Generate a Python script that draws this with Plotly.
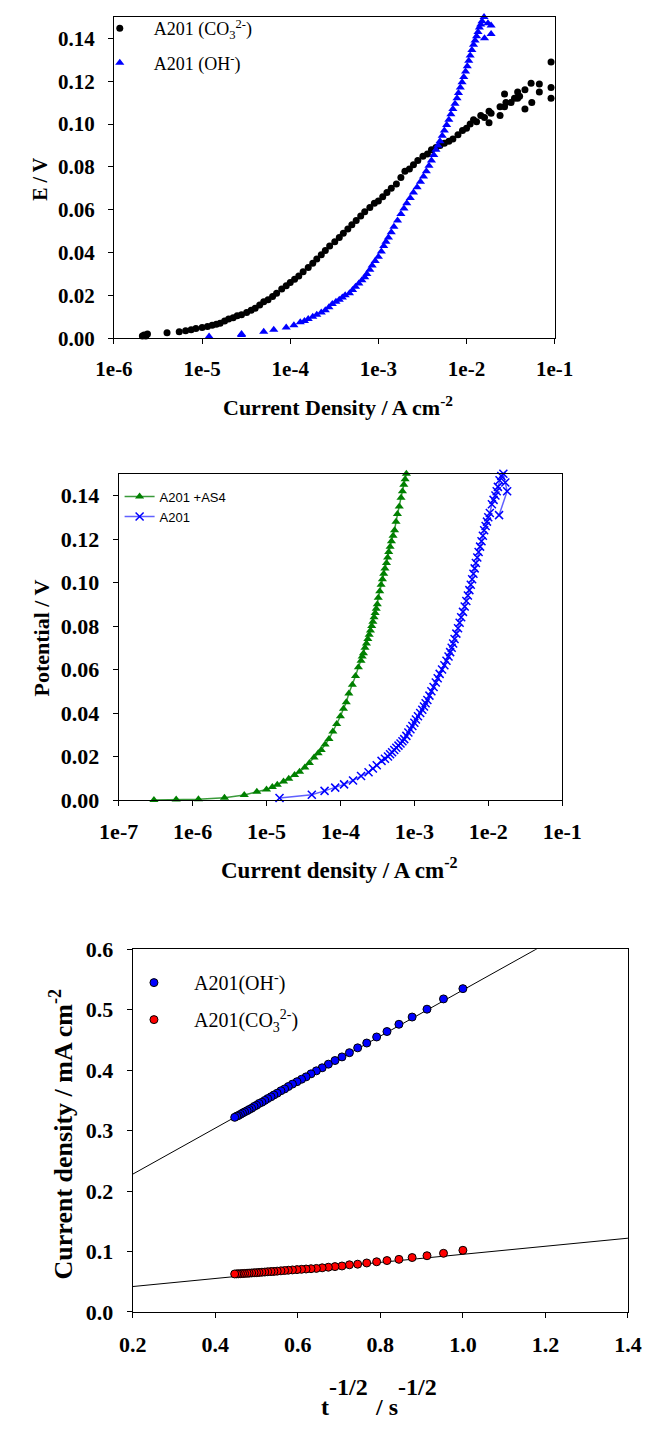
import plotly.graph_objects as go

W, H = 663, 1433

# ---------------- Panel 1 data ----------------
co3_x = [2.1e-6, 2.2e-6, 2.3e-6, 2.4e-6, 4.0e-6, 5.5e-6, 6.5e-6, 7.5e-6, 8.5e-6, 1.0e-5,
         1.15e-5, 1.3e-5, 1.45e-5, 1.6e-5, 1.8e-5, 2.0e-5, 2.25e-5, 2.5e-5, 2.8e-5, 3.2e-5,
         3.6e-5, 4.0e-5, 4.5e-5, 5.0e-5, 5.6e-5, 6.3e-5, 7.0e-5, 8.0e-5, 9.0e-5, 1.0e-4,
         1.12e-4, 1.25e-4, 1.4e-4, 1.6e-4, 1.8e-4, 2.0e-4, 2.25e-4, 2.5e-4, 2.8e-4, 3.2e-4,
         3.6e-4, 4.0e-4, 4.5e-4, 5.0e-4, 5.6e-4, 6.3e-4, 7.0e-4, 8.0e-4, 9.0e-4, 1.0e-3,
         1.12e-3, 1.25e-3, 1.4e-3, 1.6e-3, 1.8e-3, 2.0e-3, 2.25e-3, 2.5e-3, 2.8e-3, 3.2e-3,
         3.6e-3, 4.0e-3, 4.5e-3, 5.0e-3, 5.6e-3, 6.3e-3, 7.0e-3, 8.0e-3, 9.0e-3, 1.0e-2,
         1.1e-2, 1.2e-2, 1.3e-2, 1.45e-2, 1.6e-2, 1.8e-2, 1.8e-2, 1.9e-2, 2.4e-2, 2.4e-2,
         2.7e-2, 2.7e-2, 2.8e-2, 3.2e-2, 3.5e-2, 3.8e-2, 3.8e-2, 4.0e-2, 4.6e-2, 4.6e-2,
         5.4e-2, 5.5e-2, 6.7e-2, 6.7e-2, 9.1e-2, 9.1e-2, 9.1e-2]
co3_y = [0.001, 0.0015, 0.001, 0.002, 0.0025, 0.003, 0.0035, 0.004, 0.0045, 0.005,
         0.0055, 0.006, 0.0065, 0.007, 0.008, 0.009, 0.0095, 0.0105, 0.011, 0.012,
         0.013, 0.014, 0.0155, 0.017, 0.018, 0.0195, 0.021, 0.023, 0.0245, 0.026,
         0.0275, 0.029, 0.031, 0.033, 0.035, 0.037, 0.039, 0.041, 0.043, 0.045,
         0.047, 0.049, 0.051, 0.053, 0.055, 0.057, 0.059, 0.061, 0.063, 0.064,
         0.066, 0.068, 0.070, 0.072, 0.075, 0.078, 0.079, 0.081, 0.083, 0.085,
         0.086, 0.088, 0.089, 0.090, 0.091, 0.092, 0.093, 0.095, 0.097, 0.098,
         0.100, 0.102, 0.101, 0.104, 0.103, 0.106, 0.1006, 0.105, 0.104, 0.108,
         0.114, 0.108, 0.110, 0.110, 0.112, 0.115, 0.112, 0.113, 0.116, 0.107,
         0.119, 0.110, 0.1187, 0.115, 0.129, 0.117, 0.112]

oh_x = [1.2e-5, 2.8e-5, 2.8e-5, 5.0e-5, 6.5e-5, 9.0e-5, 1.1e-4, 1.3e-4, 1.45e-4, 1.6e-4,
        1.8e-4, 2.0e-4, 2.25e-4, 2.5e-4, 2.75e-4, 3.0e-4, 3.3e-4, 3.6e-4, 3.9e-4, 4.2e-4,
        4.7e-4, 5.1e-4, 5.5e-4, 6.0e-4, 6.5e-4, 7.0e-4, 7.4e-4, 8.0e-4, 8.5e-4, 9.2e-4,
        1.0e-3, 1.08e-3, 1.15e-3, 1.22e-3, 1.3e-3, 1.4e-3, 1.5e-3, 1.65e-3, 1.8e-3, 1.95e-3,
        2.1e-3, 2.3e-3, 2.5e-3, 2.75e-3, 3.0e-3, 3.25e-3, 3.5e-3, 3.75e-3, 4.0e-3, 4.25e-3,
        4.5e-3, 4.75e-3, 5.0e-3, 5.3e-3, 5.6e-3, 5.95e-3, 6.3e-3, 6.65e-3, 7.0e-3, 7.4e-3,
        7.8e-3, 8.1e-3, 8.5e-3, 8.9e-3, 9.3e-3, 9.75e-3, 1.02e-2, 1.06e-2, 1.1e-2, 1.15e-2,
        1.2e-2, 1.25e-2, 1.3e-2, 1.35e-2, 1.4e-2, 1.45e-2, 1.5e-2, 1.58e-2, 1.75e-2, 1.9e-2,
        1.9e-2, 1.6e-2]
oh_y = [0.0008, 0.0015, 0.002, 0.003, 0.004, 0.005, 0.006, 0.0075, 0.008, 0.009,
        0.010, 0.011, 0.012, 0.013, 0.0145, 0.016, 0.017, 0.018, 0.019, 0.020,
        0.021, 0.0225, 0.024, 0.0255, 0.027, 0.0285, 0.030, 0.032, 0.034, 0.036,
        0.038, 0.0405, 0.043, 0.045, 0.047, 0.0495, 0.052, 0.055, 0.058, 0.0605,
        0.063, 0.0655, 0.068, 0.0705, 0.073, 0.0755, 0.078, 0.0805, 0.083, 0.0855,
        0.088, 0.090, 0.092, 0.0945, 0.097, 0.0995, 0.102, 0.1045, 0.107, 0.1095,
        0.112, 0.1145, 0.117, 0.1195, 0.122, 0.1245, 0.127, 0.1295, 0.132, 0.1345,
        0.137, 0.139, 0.141, 0.143, 0.145, 0.1465, 0.148, 0.150, 0.147, 0.146,
        0.142, 0.140]

# ---------------- Panel 2 data ----------------
as4_x = [3.0e-7, 6.0e-7, 1.2e-6, 2.7e-6, 5.0e-6, 7.4e-6, 1.0e-5, 1.2e-5, 1.4e-5, 1.7e-5,
         2.0e-5, 2.4e-5, 2.8e-5, 3.3e-5, 3.8e-5, 4.4e-5, 5.0e-5, 5.5e-5, 6.2e-5, 7.0e-5,
         7.9e-5, 8.9e-5, 1.0e-4, 1.1e-4, 1.2e-4, 1.3e-4, 1.45e-4, 1.6e-4, 1.75e-4, 1.9e-4,
         1.97e-4, 2.05e-4, 2.15e-4, 2.25e-4, 2.35e-4, 2.45e-4, 2.55e-4, 2.65e-4, 2.75e-4, 2.85e-4,
         2.95e-4, 3.05e-4, 3.15e-4, 3.25e-4, 3.4e-4, 3.55e-4, 3.7e-4, 3.85e-4, 4.0e-4, 4.2e-4,
         4.35e-4, 4.5e-4, 4.7e-4, 4.9e-4, 5.15e-4, 5.4e-4, 5.65e-4, 5.9e-4, 6.25e-4, 6.6e-4,
         6.9e-4, 7.2e-4, 7.5e-4, 7.8e-4]
as4_y = [0.0, 0.0002, 0.0004, 0.001, 0.0023, 0.0038, 0.0048, 0.006, 0.007, 0.0085,
         0.0098, 0.0115, 0.013, 0.015, 0.017, 0.0195, 0.0215, 0.023, 0.0255, 0.028,
         0.0315, 0.035, 0.0385, 0.042, 0.045, 0.049, 0.053, 0.057, 0.061, 0.064,
         0.066, 0.0675, 0.070, 0.072, 0.074, 0.076, 0.078, 0.080, 0.082, 0.084,
         0.086, 0.088, 0.090, 0.093, 0.096, 0.099, 0.1015, 0.104, 0.1065, 0.109,
         0.1115, 0.114, 0.1165, 0.119, 0.1215, 0.124, 0.128, 0.1315, 0.135, 0.139,
         0.142, 0.145, 0.1475, 0.150]

a201_x = [1.5e-5, 4.1e-5, 6.1e-5, 8.5e-5, 1.12e-4, 1.48e-4, 1.9e-4, 2.4e-4, 2.75e-4, 3.1e-4,
          3.6e-4, 4.0e-4, 4.4e-4, 4.7e-4, 5.0e-4, 5.35e-4, 5.7e-4, 6.1e-4, 6.5e-4, 6.9e-4,
          7.3e-4, 7.8e-4, 8.3e-4, 8.85e-4, 9.4e-4, 1.0e-3, 1.05e-3, 1.12e-3, 1.2e-3, 1.28e-3,
          1.35e-3, 1.42e-3, 1.5e-3, 1.6e-3, 1.7e-3, 1.82e-3, 1.95e-3, 2.07e-3, 2.2e-3, 2.37e-3,
          2.55e-3, 2.72e-3, 2.9e-3, 3.05e-3, 3.2e-3, 3.35e-3, 3.5e-3, 3.7e-3, 3.9e-3, 4.1e-3,
          4.3e-3, 4.55e-3, 4.8e-3, 5.05e-3, 5.3e-3, 5.55e-3, 5.8e-3, 6.05e-3, 6.3e-3, 6.55e-3,
          6.8e-3, 7.1e-3, 7.4e-3, 7.75e-3, 8.1e-3, 8.45e-3, 8.8e-3, 9.2e-3, 9.6e-3, 1.0e-2,
          1.05e-2, 1.12e-2, 1.18e-2, 1.25e-2, 1.3e-2, 1.35e-2, 1.42e-2, 1.5e-2, 1.6e-2, 1.7e-2,
          1.8e-2, 1.4e-2]
a201_y = [0.0009, 0.0024, 0.0042, 0.0057, 0.0072, 0.009, 0.011, 0.0128, 0.0145, 0.016,
          0.018, 0.019, 0.020, 0.021, 0.022, 0.023, 0.024, 0.025, 0.026, 0.027,
          0.028, 0.0295, 0.031, 0.0325, 0.034, 0.0355, 0.037, 0.0385, 0.040, 0.0415,
          0.043, 0.0445, 0.046, 0.048, 0.050, 0.052, 0.054, 0.056, 0.058, 0.060,
          0.062, 0.064, 0.066, 0.068, 0.070, 0.072, 0.074, 0.0765, 0.079, 0.0815,
          0.084, 0.0865, 0.089, 0.0915, 0.094, 0.0965, 0.099, 0.1015, 0.104, 0.1065,
          0.109, 0.1115, 0.114, 0.1165, 0.119, 0.1215, 0.124, 0.126, 0.128, 0.130,
          0.132, 0.136, 0.138, 0.140, 0.142, 0.144, 0.147, 0.149, 0.150, 0.146,
          0.142, 0.131]

# ---------------- Panel 3 data ----------------
t_inv = [1.000, 0.953, 0.913, 0.877, 0.845, 0.816, 0.791, 0.767, 0.745, 0.725,
         0.707, 0.690, 0.674, 0.659, 0.645, 0.632, 0.620, 0.609, 0.598, 0.587,
         0.577, 0.568, 0.559, 0.550, 0.542, 0.535, 0.527, 0.520, 0.513, 0.506,
         0.500, 0.494, 0.488, 0.482, 0.477, 0.471, 0.466, 0.461, 0.456, 0.452, 0.447]
j_oh = [0.535, 0.518, 0.501, 0.488, 0.476, 0.464, 0.455, 0.445, 0.437, 0.429,
        0.422, 0.416, 0.410, 0.404, 0.399, 0.394, 0.389, 0.385, 0.381, 0.377,
        0.373, 0.369, 0.366, 0.362, 0.359, 0.356, 0.353, 0.350, 0.347, 0.345,
        0.342, 0.340, 0.337, 0.335, 0.333, 0.331, 0.329, 0.327, 0.325, 0.324, 0.322]
j_co3 = [0.102, 0.097, 0.093, 0.090, 0.087, 0.085, 0.083, 0.081, 0.079, 0.078,
         0.076, 0.075, 0.074, 0.073, 0.072, 0.0715, 0.071, 0.0705, 0.070, 0.0695,
         0.069, 0.0685, 0.068, 0.0675, 0.067, 0.0668, 0.0665, 0.066, 0.0657, 0.0653,
         0.065, 0.0648, 0.0645, 0.0642, 0.064, 0.0637, 0.0635, 0.0633, 0.0631, 0.063, 0.0628]
fit_x = [0.2, 1.4]
fit_oh_y = [0.228, 0.685]
fit_co3_y = [0.042, 0.122]

log_ticks_1 = [1e-6, 1e-5, 1e-4, 1e-3, 1e-2, 1e-1]
log_text_1 = ["1e-6", "1e-5", "1e-4", "1e-3", "1e-2", "1e-1"]
log_ticks_2 = [1e-7, 1e-6, 1e-5, 1e-4, 1e-3, 1e-2, 1e-1]
log_text_2 = ["1e-7", "1e-6", "1e-5", "1e-4", "1e-3", "1e-2", "1e-1"]


def px(x):
    return x / W


def py(y):
    return 1 - y / H


SERIF = "Liberation Serif, Times New Roman, serif"
SANS = "Liberation Sans, Arial, sans-serif"

fig = go.Figure()

# Panel 1
fig.add_trace(go.Scatter(x=co3_x, y=co3_y, mode="markers", name="A201 (CO<sub>3</sub><sup>2-</sup>)",
                         marker=dict(symbol="circle", size=7, color="black"),
                         xaxis="x", yaxis="y", legend="legend", legendgroup="a", cliponaxis=False))
fig.add_trace(go.Scatter(x=oh_x, y=oh_y, mode="markers", name="A201 (OH<sup>-</sup>)",
                         marker=dict(symbol="triangle-up", size=8, color="#0000ff"),
                         xaxis="x", yaxis="y", legend="legend", legendgroup="b", cliponaxis=False))

# Panel 2
fig.add_trace(go.Scatter(x=as4_x, y=as4_y, mode="lines+markers", name="A201 +AS4",
                         line=dict(color="#3a9a3a", width=1.5),
                         marker=dict(symbol="triangle-up", size=8, color="#008000"),
                         xaxis="x2", yaxis="y2", legend="legend2", cliponaxis=False))
fig.add_trace(go.Scatter(x=a201_x, y=a201_y, mode="lines+markers", name="A201",
                         line=dict(color="#6060ff", width=1.5),
                         marker=dict(symbol="x-thin", size=8, color="#0000ff",
                                     line=dict(color="#0000ff", width=1.5)),
                         xaxis="x2", yaxis="y2", legend="legend2", cliponaxis=False))

# Panel 3
fig.add_trace(go.Scatter(x=fit_x, y=fit_oh_y, mode="lines", showlegend=False,
                         line=dict(color="black", width=1), xaxis="x3", yaxis="y3"))
fig.add_trace(go.Scatter(x=fit_x, y=fit_co3_y, mode="lines", showlegend=False,
                         line=dict(color="black", width=1), xaxis="x3", yaxis="y3"))
fig.add_trace(go.Scatter(x=t_inv, y=j_oh, mode="markers", name="A201(OH<sup>-</sup>)",
                         marker=dict(symbol="circle", size=8, color="#0000ff",
                                     line=dict(color="black", width=1)),
                         xaxis="x3", yaxis="y3", legend="legend3", legendgroup="c"))
fig.add_trace(go.Scatter(x=t_inv, y=j_co3, mode="markers", name="A201(CO<sub>3</sub><sup>2-</sup>)",
                         marker=dict(symbol="circle", size=8, color="#ff0000",
                                     line=dict(color="black", width=1)),
                         xaxis="x3", yaxis="y3", legend="legend3", legendgroup="d"))

axis_common = dict(showline=True, linecolor="black", linewidth=1, mirror=True,
                   ticks="outside", ticklen=5, tickcolor="black", showgrid=False,
                   zeroline=False)

fig.update_layout(
    width=W, height=H, margin=dict(l=0, r=0, t=0, b=0),
    paper_bgcolor="white", plot_bgcolor="white",
    xaxis=dict(**axis_common, type="log", range=[-6, -1], domain=[px(100), px(569)],
               anchor="y", tickvals=log_ticks_1, ticktext=log_text_1,
               tickfont=dict(family=SERIF, size=21, color="black", weight="bold"),
               ticklabelstandoff=7),
    yaxis=dict(**axis_common, range=[0, 0.15], domain=[py(332), py(5)], anchor="x",
               tickvals=[0, 0.02, 0.04, 0.06, 0.08, 0.10, 0.12, 0.14], tickformat=".2f",
               tickfont=dict(family=SERIF, size=21, color="black", weight="bold"),
               ticklabelstandoff=9),
    xaxis2=dict(**axis_common, type="log", range=[-7, -1], domain=[px(105), px(577)],
                anchor="y2", tickvals=log_ticks_2, ticktext=log_text_2,
                tickfont=dict(family=SERIF, size=22, color="black", weight="bold"),
                ticklabelstandoff=7),
    yaxis2=dict(**axis_common, range=[0, 0.15], domain=[py(802), py(470)], anchor="x2",
                tickvals=[0, 0.02, 0.04, 0.06, 0.08, 0.10, 0.12, 0.14], tickformat=".2f",
                tickfont=dict(family=SERIF, size=22, color="black", weight="bold"),
                ticklabelstandoff=9),
    xaxis3=dict(**axis_common, range=[0.2, 1.4], domain=[px(120), px(647)], anchor="y3",
                tickvals=[0.2, 0.4, 0.6, 0.8, 1.0, 1.2, 1.4], tickformat=".1f",
                tickfont=dict(family=SERIF, size=22, color="black", weight="bold"),
                ticklabelstandoff=8),
    yaxis3=dict(**axis_common, range=[0, 0.6], domain=[py(1323), py(954)], anchor="x3",
                tickvals=[0, 0.1, 0.2, 0.3, 0.4, 0.5, 0.6], tickformat=".1f",
                tickfont=dict(family=SERIF, size=22, color="black", weight="bold"),
                ticklabelstandoff=9),
    legend=dict(x=px(70), y=py(-2), xanchor="left", yanchor="top", itemwidth=58,
                font=dict(family=SERIF, size=18, color="black"),
                bgcolor="rgba(0,0,0,0)", tracegroupgap=8),
    legend2=dict(x=px(106), y=py(478), xanchor="left", yanchor="top", itemwidth=30,
                 font=dict(family=SANS, size=13, color="black"),
                 bgcolor="rgba(0,0,0,0)", tracegroupgap=0),
    legend3=dict(x=px(100), y=py(968), xanchor="left", yanchor="top", itemwidth=70,
                 font=dict(family=SERIF, size=20, color="black"),
                 bgcolor="rgba(0,0,0,0)", tracegroupgap=8),
)

ann = []
# Panel 1 titles
ann.append(dict(text="E / V", x=px(21), y=py(170), textangle=-90,
                font=dict(family=SERIF, size=20, color="black", weight="bold")))
ann.append(dict(text="Current Density / A cm<sup>-2</sup>", x=px(338), y=py(401),
                font=dict(family=SERIF, size=22, color="black", weight="bold")))
# Panel 2 titles
ann.append(dict(text="Potential / V", x=px(23), y=py(637), textangle=-90,
                font=dict(family=SERIF, size=22, color="black", weight="bold")))
ann.append(dict(text="Current density / A cm<sup>-2</sup>", x=px(340), y=py(872),
                font=dict(family=SERIF, size=23, color="black", weight="bold")))
# Panel 3 titles
f3 = dict(family=SERIF, size=24, color="black", weight="bold")
ann.append(dict(text="Current density / mA cm<sup>-2</sup>", x=px(44), y=py(1142), textangle=-90,
                font=dict(family=SERIF, size=26, color="black", weight="bold")))
ann.append(dict(text="t", x=px(325), y=py(1420), font=f3))
ann.append(dict(text="-1/2", x=px(350), y=py(1399), font=f3))
ann.append(dict(text="/ s", x=px(390), y=py(1420), font=f3))
ann.append(dict(text="-1/2", x=px(423), y=py(1399), font=f3))

for a in ann:
    a.update(xref="paper", yref="paper", xanchor="center", yanchor="middle", showarrow=False)
fig.update_layout(annotations=ann)

fig.write_html("out.html")
